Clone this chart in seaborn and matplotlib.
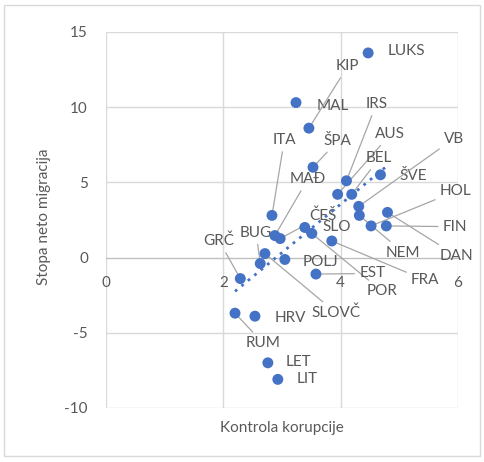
import matplotlib
matplotlib.use('Agg')
import matplotlib.pyplot as plt
import seaborn as sns
import pandas as pd
from matplotlib.patches import Rectangle

# EU countries: control of corruption vs. net migration rate
countries = ['LUKS', 'MAL', 'KIP', 'ŠPA', 'ITA', 'IRS', 'AUS', 'BEL', 'ŠVE', 'VB',
             'NEM', 'DAN', 'HOL', 'FIN', 'ČEŠ', 'SLO', 'POR', 'FRA', 'EST', 'MAĐ',
             'BUG', 'SLOVČ', 'POLJ', 'GRČ', 'RUM', 'HRV', 'LET', 'LIT']
kontrola = [4.47, 3.24, 3.46, 3.53, 2.83, 4.10, 3.95, 4.19, 4.68, 4.31,
            4.32, 4.80, 4.52, 4.78, 2.97, 3.39, 3.51, 3.85, 3.58, 2.88,
            2.63, 2.71, 3.05, 2.29, 2.20, 2.54, 2.76, 2.93]
migracija = [13.6, 10.3, 8.6, 6.0, 2.8, 5.1, 4.2, 4.2, 5.5, 3.4,
             2.8, 3.0, 2.1, 2.1, 1.26, 2.0, 1.6, 1.1, -1.1, 1.46,
             -0.4, 0.26, -0.13, -1.4, -3.7, -3.9, -7.0, -8.1]

x_ticks = [0, 2, 4, 6]
y_ticks = [-10, -5, 0, 5, 10, 15]

# label placement (data coords) and whether a leader line is drawn
label_pos = {
    'LUKS': (5.12, 13.7, False), 'MAL': (3.87, 10.1, False), 'KIP': (4.12, 12.7, True),
    'ŠPA': (3.95, 7.75, True), 'ITA': (3.04, 7.8, True), 'IRS': (4.61, 10.2, True),
    'AUS': (4.85, 8.2, True), 'BEL': (4.66, 6.6, True), 'ŠVE': (5.24, 5.4, False),
    'VB': (5.93, 7.9, True), 'NEM': (5.07, 0.33, True), 'DAN': (5.97, 0.13, True),
    'HOL': (5.96, 4.4, True), 'FIN': (5.95, 2.05, True), 'ČEŠ': (3.70, 2.8, True),
    'SLO': (3.93, 2.0, False), 'POR': (4.71, -2.25, True), 'FRA': (5.44, -1.5, True),
    'EST': (4.54, -1.06, True), 'MAĐ': (3.44, 5.2, True), 'BUG': (2.56, 1.65, True),
    'SLOVČ': (3.93, -3.7, True), 'POLJ': (3.65, -0.33, False), 'GRČ': (1.93, 1.1, True),
    'RUM': (2.68, -5.7, True), 'HRV': (3.14, -4.0, False), 'LET': (3.29, -6.95, False),
    'LIT': (3.43, -8.1, False),
}

df = pd.DataFrame({'Kontrola korupcije': kontrola, 'Stopa neto migracija': migracija,
                   'Zemlja': countries})

sns.set_style('white')
plt.rcParams['font.family'] = ['Lato', 'DejaVu Sans']
plt.rcParams['axes.unicode_minus'] = False
text_col = '#595959'
blue = '#4472C4'
fs = 11

fig = plt.figure(figsize=(4.84, 4.62), dpi=100)
fig.patches.append(Rectangle((0.008, 0.012), 0.984, 0.978, transform=fig.transFigure,
                             fill=False, edgecolor='#d9d9d9', lw=1))
ax = fig.add_axes([0.219, 0.117, 0.727, 0.814])

sns.regplot(data=df, x='Kontrola korupcije', y='Stopa neto migracija', ax=ax,
            scatter=False, ci=None, color=blue,
            line_kws=dict(ls=(0, (1, 2)), lw=2, zorder=4))
sns.scatterplot(data=df, x='Kontrola korupcije', y='Stopa neto migracija', ax=ax,
                color=blue, s=62, edgecolor='none', zorder=5)

for name, xv, yv in zip(countries, kontrola, migracija):
    tx, ty, leader = label_pos[name]
    props = dict(arrowstyle='-', color='#a6a6a6', lw=0.9, shrinkA=1, shrinkB=0) if leader else None
    ax.annotate(name, xy=(xv, yv), xytext=(tx, ty), ha='center', va='center',
                fontsize=fs, color=text_col, arrowprops=props, zorder=3)

ax.set_xlim(0, 6)
ax.set_ylim(-10, 15)
ax.set_xticks(x_ticks)
ax.set_yticks(y_ticks)
ax.grid(True, color='#d9d9d9', lw=1)
for side in ['top', 'right', 'left']:
    ax.spines[side].set_visible(False)
ax.spines['bottom'].set_position(('data', 0))
ax.spines['bottom'].set_color('#bfbfbf')
ax.tick_params(axis='both', length=0, labelsize=fs, labelcolor=text_col)
ax.tick_params(axis='y', pad=13)
ax.tick_params(axis='x', pad=13)

ax.set_xlabel('')
ax.set_ylabel('')
fig.text(0.582, 0.074, 'Kontrola korupcije', ha='center', va='center',
         fontsize=fs, color=text_col)
fig.text(0.091, 0.530, 'Stopa neto migracija', ha='center', va='center',
         rotation=90, fontsize=fs, color=text_col)

fig.savefig('out.png', dpi=100)
